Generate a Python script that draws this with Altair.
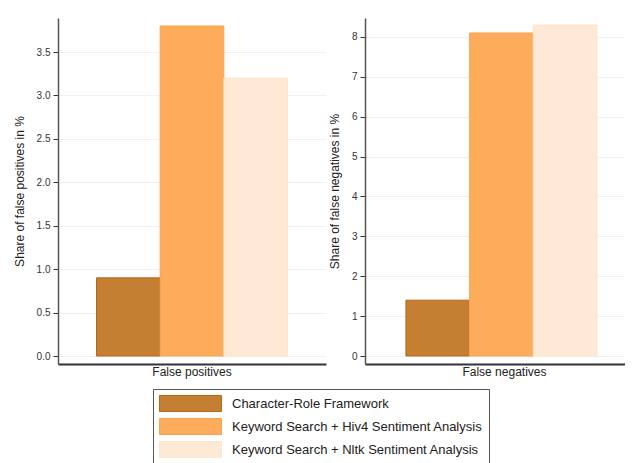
import altair as alt
import pandas as pd

methods = [
    "Character-Role Framework",
    "Keyword Search + Hiv4 Sentiment Analysis",
    "Keyword Search + Nltk Sentiment Analysis",
]
fp_values = [0.9, 3.8, 3.2]
fn_values = [1.4, 8.1, 8.3]
fill_colors = ["#c57f33", "#fdac5c", "#fde9d5"]
stroke_colors = ["#b8651d", "#fca24c", "#fde4cc"]

fp_ticks = [0.0, 0.5, 1.0, 1.5, 2.0, 2.5, 3.0, 3.5]
fn_ticks = [0, 1, 2, 3, 4, 5, 6, 7, 8]

df_fp = pd.DataFrame({"metric": "False positives", "method": methods, "value": fp_values})
df_fn = pd.DataFrame({"metric": "False negatives", "method": methods, "value": fn_values})

FONT = "Liberation Sans"
PAD_LEFT = 50
PAD_TOP = 10
SVG_W = 617
SVG_H = 447

legend = alt.Legend(
    orient="none",
    legendX=95,
    legendY=371,
    title=None,
    symbolType="M-3.875,-1H3.875V1H-3.875Z",
    symbolSize=256,
    symbolOffset=23,
    labelOffset=33,
    labelFontSize=13,
    labelFont=FONT,
    labelColor="#222",
    labelLimit=500,
    rowPadding=2,
    padding=6,
    strokeColor="#555",
    fillColor="white",
    symbolStrokeWidth=1,
    symbolOpacity=1,
)


def panel(df, domain, ticks, fmt, title, pad_outer, align, width):
    return (
        alt.Chart(df)
        .mark_bar(strokeWidth=1, opacity=1)
        .encode(
            x=alt.X(
                "metric:N",
                title=None,
                scale=alt.Scale(paddingOuter=pad_outer, paddingInner=0, align=align),
                axis=alt.Axis(
                    labelAngle=0,
                    ticks=False,
                    grid=False,
                    labelFontSize=12,
                    labelFont=FONT,
                    labelColor="#222",
                    labelPadding=2,
                    domainColor="#333",
                    domainWidth=2,
                ),
            ),
            xOffset=alt.XOffset(
                "method:N", sort=methods, scale=alt.Scale(paddingInner=0, paddingOuter=0)
            ),
            y=alt.Y(
                "value:Q",
                title=title,
                scale=alt.Scale(domain=domain, nice=False, zero=False),
                axis=alt.Axis(
                    values=ticks,
                    format=fmt,
                    labelFontSize=10,
                    labelFont=FONT,
                    labelColor="#333",
                    labelPadding=3,
                    tickSize=5,
                    tickColor="#333",
                    tickWidth=1,
                    domainColor="#555",
                    domainWidth=1.5,
                    gridColor="#eaf2f3",
                    gridWidth=1,
                    titleFont=FONT,
                    titleFontSize=12,
                    titleFontWeight="normal",
                    titleColor="#222",
                    titlePadding=10,
                ),
            ),
            y2=alt.Y2Datum(0),
            fill=alt.Fill(
                "method:N",
                sort=methods,
                scale=alt.Scale(domain=methods, range=fill_colors),
                legend=legend,
            ),
            stroke=alt.Stroke(
                "method:N",
                sort=methods,
                scale=alt.Scale(domain=methods, range=stroke_colors),
                legend=legend,
            ),
        )
        .properties(width=width, height=346)
    )


left = panel(df_fp, [-0.092, 3.892], fp_ticks, ".1f", "Share of false positives in %", 0.2016, 0.5, 268)
right = panel(df_fn, [-0.2006, 8.476], fn_ticks, "d", "Share of false negatives in %", 0.1624, 0.64, 261)

chart = (
    alt.hconcat(left, right, spacing=2)
    .properties(
        padding={"left": PAD_LEFT, "top": PAD_TOP, "right": SVG_W - PAD_LEFT, "bottom": SVG_H - PAD_TOP},
        autosize=alt.AutoSizeParams(type="none"),
        background="white",
    )
    .configure_view(stroke=None)
)

chart.save("out.html", embed_options={"renderer": "svg", "actions": False})
